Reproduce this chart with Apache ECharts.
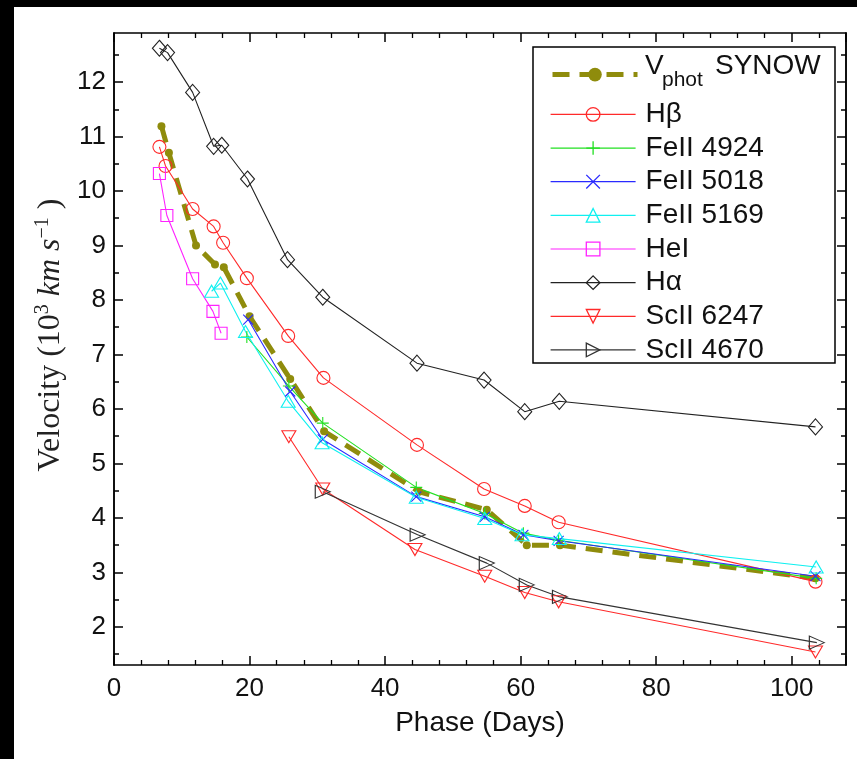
<!DOCTYPE html>
<html><head><meta charset="utf-8">
<script src="https://cdn.jsdelivr.net/npm/echarts@6/dist/echarts.min.js"></script>
<style>html,body{margin:0;padding:0;background:#fff}#c{width:857px;height:759px}</style>
</head><body><div id="c"></div>
<script>
// ---- data (phase in days, velocity in 10^3 km/s) ----
const vphotX  = [7.0, 8.1, 12.1, 14.9, 16.2, 20.0, 26.0, 31.0, 45.0, 55.0, 60.9, 65.8, 103.5];
const vphotY  = [11.19, 10.70, 9.00, 8.65, 8.60, 7.70, 6.55, 5.59, 4.48, 4.15, 3.50, 3.50, 2.89];
const hbX     = [6.7, 7.6, 11.6, 14.7, 16.1, 19.6, 25.7, 30.9, 44.7, 54.6, 60.6, 65.6, 103.5];
const hbY     = [10.81, 10.46, 9.67, 9.35, 9.05, 8.40, 7.34, 6.57, 5.34, 4.53, 4.22, 3.92, 2.83];
const fe4924X = [19.6, 25.8, 30.8, 44.6, 54.7, 60.4, 65.6, 103.6];
const fe4924Y = [7.32, 6.42, 5.74, 4.56, 4.08, 3.72, 3.59, 2.89];
const fe5018X = [19.8, 26.0, 30.8, 44.6, 54.7, 60.4, 65.6, 103.5];
const fe5018Y = [7.64, 6.32, 5.44, 4.39, 4.02, 3.69, 3.58, 2.93];
const fe5169X = [14.4, 15.7, 19.4, 25.7, 30.7, 44.6, 54.7, 60.2, 65.7, 103.6];
const fe5169Y = [8.16, 8.31, 7.42, 6.14, 5.38, 4.38, 3.99, 3.69, 3.62, 3.10];
const heX     = [6.7, 7.8, 11.6, 14.6, 15.8];
const heY     = [10.32, 9.55, 8.39, 7.79, 7.39];
const haX     = [6.7, 7.9, 11.6, 14.7, 15.9, 19.7, 25.6, 30.8, 44.7, 54.6, 60.6, 65.7, 103.5];
const haY     = [12.62, 12.54, 11.81, 10.82, 10.84, 10.22, 8.74, 8.05, 6.84, 6.53, 5.95, 6.14, 5.67];
const sc6247X = [25.8, 30.8, 44.4, 54.7, 60.6, 65.6, 103.5];
const sc6247Y = [5.49, 4.53, 3.42, 2.93, 2.63, 2.46, 1.54];
const sc4670X = [30.8, 44.8, 55.0, 60.9, 65.8, 103.7];
const sc4670Y = [4.48, 3.69, 3.17, 2.77, 2.55, 1.71];

const xRange = [0, 108];
const yRange = [1.3, 12.9];
const yMajorTicks = [2, 3, 4, 5, 6, 7, 8, 9, 10, 11, 12];
const yMinorTicks = [1.5, 2.5, 3.5, 4.5, 5.5, 6.5, 7.5, 8.5, 9.5, 10.5, 11.5, 12.5];

// ---- styling ----
const SANS = "'Liberation Sans', Arial, Helvetica, sans-serif";
const SERIF = "'Liberation Serif', 'Times New Roman', serif";
const AX = '#000';
const pairs = (xs, ys) => xs.map((x, i) => [x, ys[i]]);
const PLUS = 'path://M5,0 L5,10 M0,5 L10,5';
const CROSS = 'path://M0,0 L10,10 M0,10 L10,0';

function mk(name, xs, ys, color, symbol, size, rotate) {
  return {
    name, type: 'line', data: pairs(xs, ys),
    symbol, symbolSize: size, symbolRotate: rotate || 0,
    showSymbol: true, animation: false,
    lineStyle: { color, width: 1.1 },
    itemStyle: { color: 'rgba(0,0,0,0)', borderColor: color, borderWidth: 1.1 },
    emphasis: { disabled: true }
  };
}

const series = [
  {
    name: 'Vphot', type: 'line', data: pairs(vphotX, vphotY),
    symbol: 'circle', symbolSize: 8, animation: false,
    lineStyle: { color: '#8f8c0c', width: 5, type: [17, 10] },
    itemStyle: { color: '#8f8c0c' }, emphasis: { disabled: true }
  },
  mk('Hβ', hbX, hbY, '#ff2a2a', 'circle', 13),
  mk('FeII 4924', fe4924X, fe4924Y, '#22e022', PLUS, 12),
  mk('FeII 5018', fe5018X, fe5018Y, '#2a2aff', CROSS, 10),
  mk('FeII 5169', fe5169X, fe5169Y, '#10f0f0', 'triangle', [14, 12]),
  mk('HeI', heX, heY, '#ff22ff', 'rect', 12),
  mk('Hα', haX, haY, '#222222', 'diamond', [14, 16]),
  mk('ScII 6247', sc6247X, sc6247Y, '#ff2a2a', 'triangle', [14, 12], 180),
  mk('ScII 4670', sc4670X, sc4670Y, '#333333', 'triangle', [13, 15], -90)
];

const legendItem = s => ({
  name: s.name,
  lineStyle: { width: s.name === 'Vphot' ? 5 : 1.2 },
  itemStyle: s.name === 'Vphot' ? {} : { borderWidth: 1.3 }
});

const tickCommon = { inside: true, lineStyle: { color: AX, width: 1.5 } };
const axisLine = { show: true, onZero: false, lineStyle: { color: AX, width: 1.5 } };

function xAx(pos, labels) {
  return {
    type: 'value', position: pos, min: xRange[0], max: xRange[1], interval: 20,
    axisLine, splitLine: { show: false },
    axisTick: Object.assign({ length: 9 }, tickCommon),
    minorTick: { show: true, splitNumber: 5, length: 5, lineStyle: { color: AX, width: 1.3 } },
    axisLabel: { show: labels, showMaxLabel: false, fontFamily: SANS, fontSize: 26, color: '#111', margin: 11 },
    name: labels ? 'Phase (Days)' : '', nameLocation: 'middle', nameGap: 44, nameMoveOverlap: false,
    nameTextStyle: { fontFamily: SANS, fontSize: 28, color: '#111' }
  };
}
function yAx(pos, ticks, len, labels) {
  const o = {
    type: 'value', position: pos, min: yRange[0], max: yRange[1],
    axisLine, splitLine: { show: false },
    axisTick: Object.assign({ length: len, customValues: ticks }, tickCommon),
    axisLabel: { show: labels, customValues: ticks, fontFamily: SANS, fontSize: 26, color: '#111', margin: 8 },
    nameMoveOverlap: false
  };
  if (labels) {
    o.name = '{r|Velocity (10}{s|3}{i| km s}{s|−1}{r| )}';
    o.nameLocation = 'middle';
    o.nameRotate = 90;
    o.nameGap = 47;
    o.nameTextStyle = {
      fontFamily: SERIF, fontSize: 32, color: '#222', padding: [0, 0, 0, 28],
      rich: {
        r: { fontFamily: SERIF, fontSize: 32, color: '#222', lineHeight: 34, verticalAlign: 'bottom' },
        i: { fontFamily: SERIF, fontSize: 32, color: '#222', fontStyle: 'italic', lineHeight: 34, verticalAlign: 'bottom' },
        s: { fontFamily: SERIF, fontSize: 20, color: '#222', lineHeight: 20, padding: [0, 0, 18, 0], verticalAlign: 'top' }
      }
    };
  }
  return o;
}

const legendCommon = {
  orient: 'vertical', left: 550, padding: 0,
  itemWidth: 85, itemHeight: 17, itemGap: 5.65,
  selectedMode: false, z: 6,
  textStyle: { fontFamily: SANS, fontSize: 28, color: '#111', lineHeight: 26, padding: [0, 0, 0, 5] }
};

const legendTextStyle = { font: '28px ' + SANS, fill: '#111', verticalAlign: 'middle', align: 'left' };

const chart = echarts.init(document.getElementById('c'), null, { renderer: 'canvas' });
chart.setOption({
  backgroundColor: '#fff',
  animation: false,
  grid: { left: 114, right: 11, top: 33, bottom: 94, containLabel: false, outerBoundsMode: 'none' },
  xAxis: [xAx('bottom', true), xAx('top', false)],
  yAxis: [
    yAx('left', yMajorTicks, 9, true),
    yAx('left', yMinorTicks, 5, false),
    yAx('right', yMajorTicks, 9, false),
    yAx('right', yMinorTicks, 5, false)
  ],
  legend: [
    Object.assign({}, legendCommon, { top: 67.8, data: [legendItem(series[0])], formatter: () => '' }),
    Object.assign({}, legendCommon, { top: 100.4, data: series.slice(1).map(legendItem) })
  ],
  graphic: [
    { type: 'rect', left: 0, top: 0, shape: { width: 857, height: 7 }, style: { fill: '#000' }, silent: true },
    { type: 'rect', left: 0, top: 0, shape: { width: 14, height: 759 }, style: { fill: '#000' }, silent: true },
    { type: 'rect', z: 5, silent: true, shape: { x: 533, y: 47, width: 302, height: 316 },
      style: { fill: '#fff', stroke: '#000', lineWidth: 1.5 } },
    { type: 'text', z: 6, silent: true, x: 645, y: 66.3, style: Object.assign({ text: 'V' }, legendTextStyle) },
    { type: 'text', z: 6, silent: true, x: 662, y: 80.5, style: Object.assign({}, legendTextStyle, { text: 'phot', font: '21px ' + SANS }) },
    { type: 'text', z: 6, silent: true, x: 715, y: 66.3, style: Object.assign({ text: 'SYNOW' }, legendTextStyle) }
  ],
  series
});
</script></body></html>
